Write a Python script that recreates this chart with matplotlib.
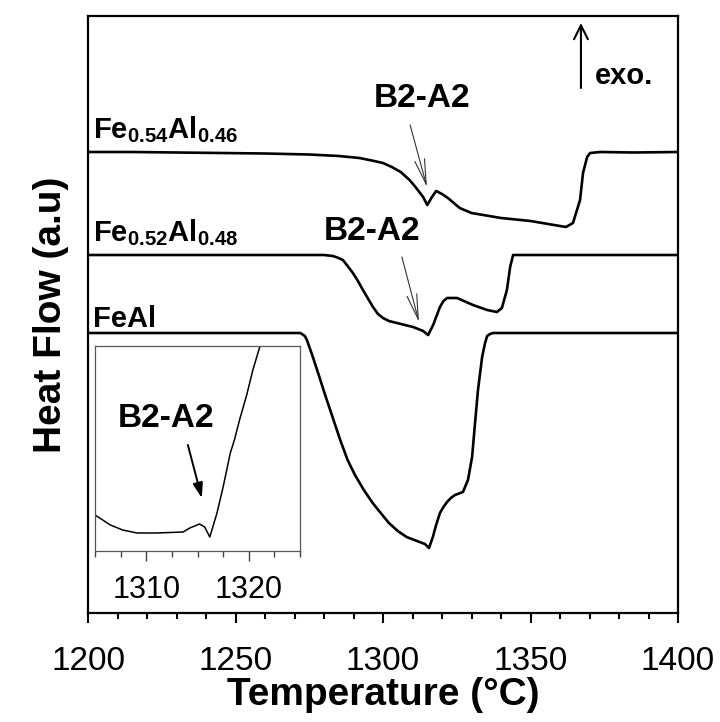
import numpy as np
import matplotlib
matplotlib.use("Agg")
import matplotlib.pyplot as plt
from matplotlib.ticker import MultipleLocator

plt.rcParams['font.family'] = ['Liberation Sans', 'DejaVu Sans']
plt.rcParams['mathtext.fontset'] = 'custom'
plt.rcParams['mathtext.rm'] = 'Liberation Sans'
plt.rcParams['mathtext.bf'] = 'Liberation Sans:bold'

# DSC traces (heat flow in arbitrary units, already offset)
temp_a = [1200, 1215, 1230, 1245, 1260, 1275, 1285, 1292, 1297, 1300, 1303, 1306, 1309, 1311,
          1313.6, 1315, 1316.6, 1318, 1320, 1322, 1324, 1326, 1330, 1340, 1350, 1360, 1362, 1364.4,
          1366.8, 1367.8, 1369.2, 1370.2, 1373.6, 1385, 1400]
flow_a = [461, 461, 460.5, 460, 459.5, 458.5, 457, 455, 452, 450, 446, 441, 433, 426,
          416, 408, 416, 422, 419, 415, 410, 405, 400, 395, 392, 387, 386, 390,
          413, 440, 456, 460, 461, 460.5, 461]

temp_b = [1200, 1272, 1280, 1283, 1284.5, 1286.4, 1288, 1289.8, 1291.5, 1293.2, 1295, 1296.6,
          1298.3, 1300, 1302, 1304.7, 1310.2, 1313.6, 1315.3, 1317, 1319.3, 1320.5, 1321.7,
          1325.1, 1330.5, 1335.3, 1338.6, 1340.3, 1342, 1343.1, 1344.1, 1400]
flow_b = [358, 358, 358, 357, 355.5, 353, 347, 340, 332, 323, 314, 306,
          299, 295, 292, 290, 286, 282, 278, 288, 306, 312, 315,
          315, 308, 303, 301, 305, 323, 346, 358, 358]

temp_c = [1200, 1272, 1273.5, 1274.2, 1276, 1278, 1280.5, 1283, 1285.5, 1288, 1290.5, 1293.5,
          1296.5, 1299.5, 1302, 1305, 1308, 1311.5, 1314.2, 1315.6, 1316.9, 1318, 1319.3, 1320.5,
          1321.7, 1323, 1324.4, 1327.1, 1328.8, 1330.2, 1331.2, 1332.2, 1333.6, 1334.6, 1335.3,
          1336.3, 1337.3, 1400]
flow_c = [280, 280, 277, 273, 258, 240, 217, 195, 173, 153, 138, 123,
          110, 99, 90, 82, 76, 72, 69, 65, 76, 88, 100, 106,
          111, 115, 118, 121, 133, 156, 190, 223, 256, 270, 277,
          279, 280, 280]

# inset: zoom on the FeAl minimum
temp_in = [1305, 1306.5, 1307.7, 1309.1, 1311, 1313.6, 1314.25, 1315.2, 1315.7, 1316.2, 1316.9,
           1317.5, 1318.2, 1318.6, 1319.1, 1319.8, 1320.4, 1321.1, 1322]
flow_in = [36, 26, 21, 18, 18, 19, 23, 27, 24, 14, 38,
           64, 98, 111, 131, 156, 181, 205, 231]

fig = plt.figure(figsize=(7.2, 7.22), dpi=100)
ax = fig.add_axes([88/720, 109/722, 590/720, 597/722])

for t, f in [(temp_a, flow_a), (temp_b, flow_b), (temp_c, flow_c)]:
    ax.plot(t, f, color='black', lw=1.9, solid_joinstyle='round')

ax.set_xlim(1200, 1400)
ax.set_ylim(0, 597)
ax.xaxis.set_major_locator(MultipleLocator(50))
ax.xaxis.set_minor_locator(MultipleLocator(10))
ax.tick_params(axis='x', which='major', direction='out', length=7.5, width=1.5, labelsize=24, pad=16)
ax.tick_params(axis='x', which='minor', direction='out', length=4, width=1.5)
ax.set_yticks([])
for s in ax.spines.values():
    s.set_linewidth(1.6)

ax.set_xlabel('Temperature (°C)', fontsize=28, fontweight='bold', labelpad=0)
ax.set_ylabel('Heat Flow (a.u)', fontsize=28, fontweight='bold', labelpad=14)

# curve labels
ax.text(1201.7, 475, r'Fe$_{\mathbf{0.54}}$Al$_{\mathbf{0.46}}$', fontsize=21, fontweight='bold', va='baseline')
ax.text(1201.7, 372, r'Fe$_{\mathbf{0.52}}$Al$_{\mathbf{0.48}}$', fontsize=21, fontweight='bold', va='baseline')
ax.text(1201.7, 286, 'FeAl', fontsize=21, fontweight='bold', va='baseline')

# transition markers
ax.text(1313.2, 506, 'B2-A2', fontsize=24, fontweight='bold', ha='center', va='baseline')
ax.annotate('', xy=(1314.9, 426), xytext=(1309.2, 488),
            arrowprops=dict(arrowstyle='->, head_length=0.9, head_width=0.18', color='#333333', lw=0.8,
                            shrinkA=0, shrinkB=0, mutation_scale=20))
ax.text(1296.4, 373, 'B2-A2', fontsize=24, fontweight='bold', ha='center', va='baseline')
ax.annotate('', xy=(1312.2, 291), xytext=(1306.4, 356),
            arrowprops=dict(arrowstyle='->, head_length=0.9, head_width=0.18', color='#333333', lw=0.8,
                            shrinkA=0, shrinkB=0, mutation_scale=20))

# exo direction
ax.annotate('', xy=(1367.1, 590), xytext=(1367.1, 525),
            arrowprops=dict(arrowstyle='->, head_length=0.5, head_width=0.25', color='black', lw=1.5,
                            shrinkA=0, shrinkB=0, mutation_scale=20))
ax.text(1371.9, 529, 'exo.', fontsize=21, fontweight='bold', va='baseline')

# inset
axin = fig.add_axes([95/720, 171/722, 205/720, 205/722])
axin.plot(temp_in, flow_in, color='black', lw=1.1)
axin.set_xlim(1305, 1325)
axin.set_ylim(0, 205)
axin.xaxis.set_major_locator(MultipleLocator(10))
axin.xaxis.set_minor_locator(MultipleLocator(2.5))
axin.set_yticks([])
axin.tick_params(axis='x', which='major', direction='out', length=7, width=1, color='#444444',
                 labelsize=22, pad=10)
axin.tick_params(axis='x', which='minor', direction='out', length=4, width=1, color='#444444')
for s in axin.spines.values():
    s.set_linewidth(0.9)
    s.set_color('#555555')
axin.text(1311.9, 124, 'B2-A2', fontsize=24, fontweight='bold', ha='center', va='baseline')
axin.annotate('', xy=(1315.42, 53), xytext=(1314.06, 106),
              arrowprops=dict(arrowstyle='-|>, head_length=0.6, head_width=0.2', color='black', lw=1.4,
                              shrinkA=0, shrinkB=0, mutation_scale=15))

fig.savefig('out.png', dpi=100)
